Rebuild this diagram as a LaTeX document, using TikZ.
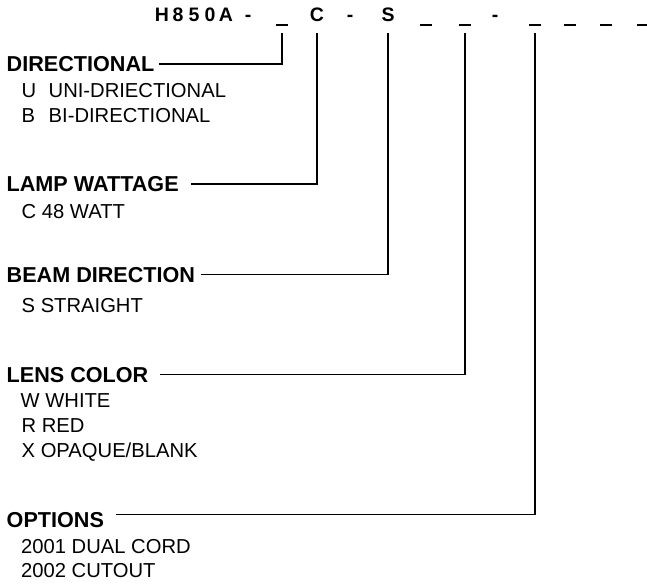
\documentclass[tikz,border=0pt]{standalone}
\usepackage{fontspec}
\setmainfont{Liberation Sans}
\usetikzlibrary{positioning,calc}

\newcommand{\blankslot}{\rule[-4.5pt]{12.5pt}{1.8pt}}

\begin{document}
\begin{tikzpicture}[x=1pt, y=-1pt,
    code/.style={font=\fontsize{19.5}{20}\selectfont\bfseries, inner sep=0pt, anchor=base},
    heading/.style={font=\fontsize{21.6}{22}\selectfont\bfseries, inner sep=0pt, anchor=base west},
    item/.style={font=\fontsize{20.2}{21}\selectfont, inner sep=0pt, anchor=base west},
    lead/.style={line width=1.8pt}
]
\useasboundingbox (0,0) rectangle (647,584);

% Part number
\foreach \x/\ch/\nm in {162/H/h, 178/8/d8, 194/5/d5, 210/0/d0, 226/A/a, 248/-/m1,
    282/\blankslot/dirslot, 317/C/lampslot, 350/-/m2, 388/S/beamslot,
    426/\blankslot/u1, 465/\blankslot/lensslot, 495/-/m3,
    535/\blankslot/optslot, 570/\blankslot/u2, 606/\blankslot/u3, 643/\blankslot/u4}
  \node[code] (\nm) at (\x, 21) {\ch};

% Taps below the slots
\coordinate (dirtap) at (dirslot |- 0,33);
\coordinate (lamptap) at (lampslot |- 0,33);
\coordinate (beamtap) at (beamslot |- 0,33);
\coordinate (lenstap) at (lensslot |- 0,33);
\coordinate (opttap) at (optslot |- 0,33);

% Directional
\node[heading] (dir) at (6.5, 71.5) {DIRECTIONAL};
\node[item] (dirU) at (21.5, 97) {\makebox[27pt][l]{U}UNI-DRIECTIONAL};
\node[item] (dirB) at (21.5, 122.5) {\makebox[27pt][l]{B}BI-DIRECTIONAL};

% Lamp wattage
\node[heading] (lamp) at (6.5, 191.5) {LAMP WATTAGE};
\node[item] (lampC) at (21.5, 218) {C 48 WATT};

% Beam direction
\node[heading] (beam) at (6.5, 282) {BEAM DIRECTION};
\node[item] (beamS) at (21.5, 312) {S STRAIGHT};

% Lens color
\node[heading] (lens) at (6.5, 382) {LENS COLOR};
\node[item] (lensW) at (20.5, 407) {W WHITE};
\node[item] (lensR) at (21.5, 432) {R RED};
\node[item] (lensX) at (21.5, 457) {X OPAQUE/BLANK};

% Options
\node[heading] (opt) at (6.5, 527) {OPTIONS};
\node[item] (opt1) at (21, 553) {2001 DUAL CORD};
\node[item] (opt2) at (21, 577) {2002 CUTOUT};

% Leaders
\draw[lead] ([xshift=5pt]dir.east) -| (dirtap);
\draw[lead] ([xshift=12pt]lamp.east) -| (lamptap);
\draw[lead] ([xshift=6pt]beam.east) -| (beamtap);
\draw[lead] ([xshift=11pt]lens.east) -| (lenstap);
\draw[lead] ([xshift=12pt, yshift=5pt]opt.east) -| (opttap);

\end{tikzpicture}
\end{document}
